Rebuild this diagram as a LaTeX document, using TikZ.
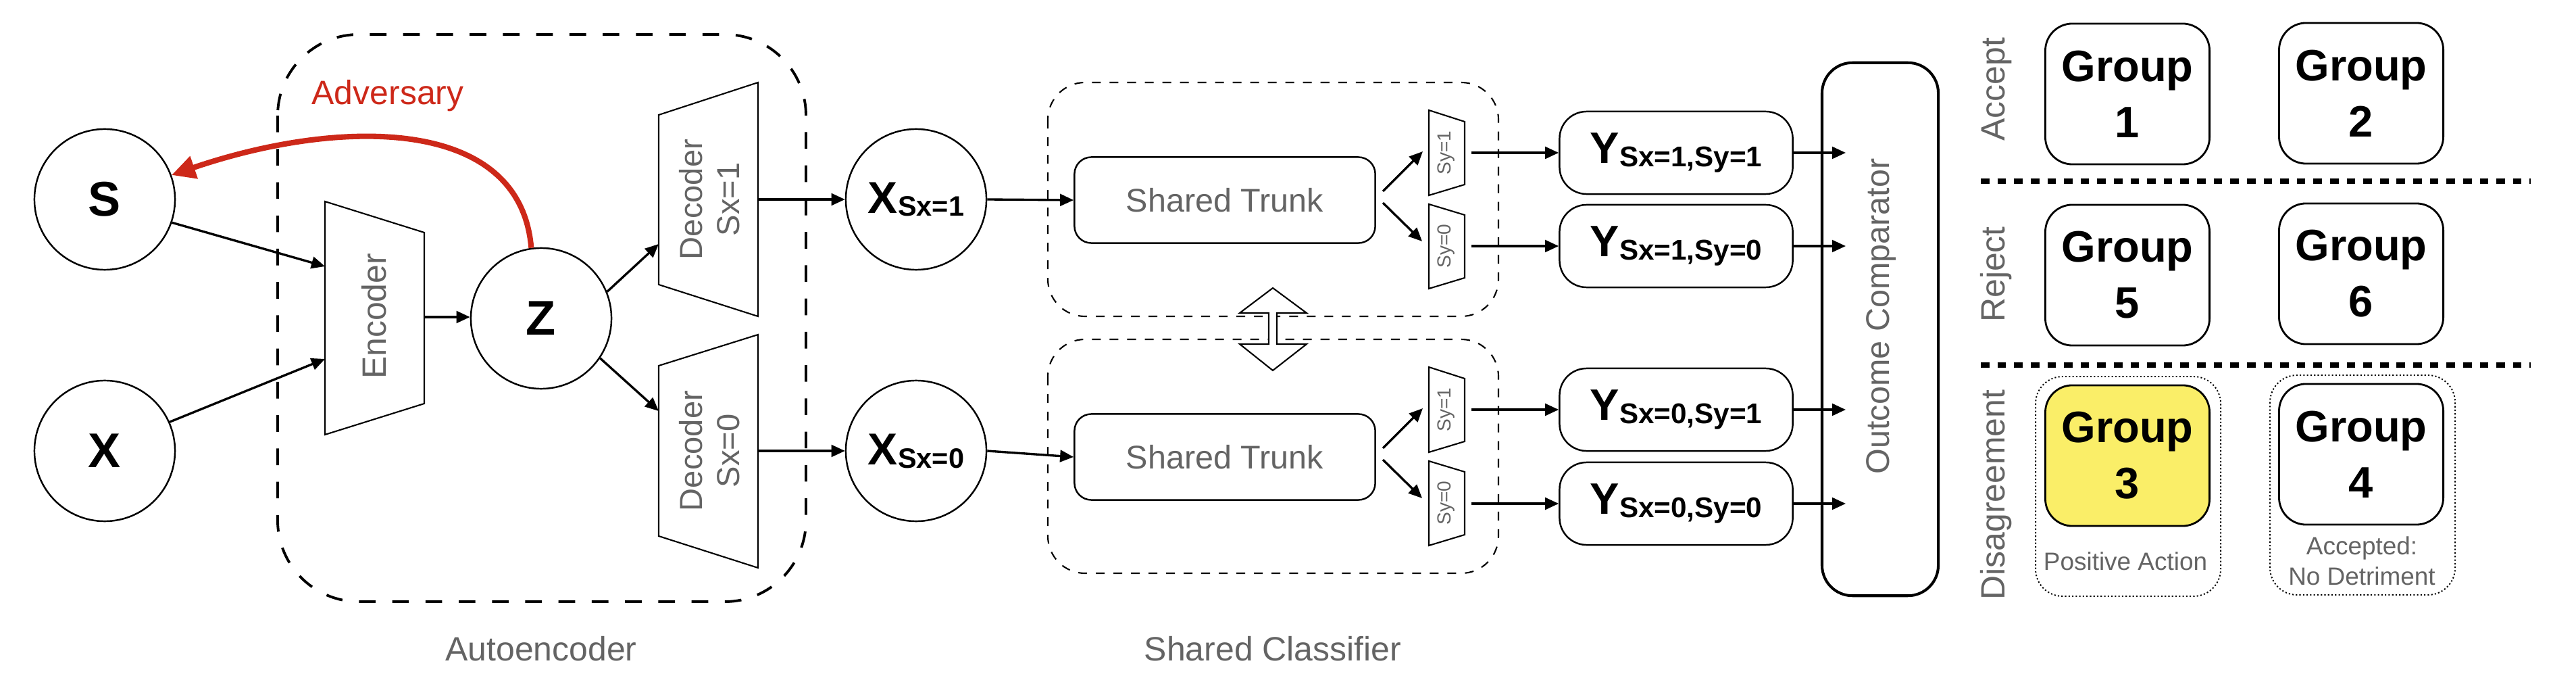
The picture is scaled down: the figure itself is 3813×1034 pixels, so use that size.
\documentclass[tikz,border=0pt]{standalone}
\usepackage{fontspec}
\setmainfont{Liberation Sans}
\usetikzlibrary{arrows.meta}
\definecolor{labelgray}{RGB}{100,100,100}
\definecolor{advred}{RGB}{205,40,25}
\definecolor{hiyellow}{RGB}{250,238,104}
\newcommand{\lowsub}[2]{\raisebox{-1.4pt}{\fontsize{#1}{#1}\selectfont #2}}

\begin{document}
\begin{tikzpicture}[x=0.01cm,y=-0.01cm,
  var/.style={draw,circle,line width=0.7pt,minimum size=2.08cm,inner sep=0pt,
    font=\fontsize{20.5}{24}\selectfont\bfseries},
  lbl/.style={text=labelgray,inner sep=0pt,font=\fontsize{14.2}{17}\selectfont},
  layer/.style={draw,line width=0.6pt},
  arr/.style={line width=0.95pt,-{Triangle[length=5.7pt,width=5pt]}},
  adv/.style={draw=advred,line width=2.3pt,-{Triangle[length=10pt,width=9.5pt]}},
  outbox/.style={draw,line width=0.7pt,rounded corners=0.4cm,inner sep=0pt,
    minimum width=3.45cm,minimum height=1.22cm,font=\fontsize{18.5}{22}\selectfont\bfseries},
  grp/.style={draw,line width=0.8pt,rounded corners=0.4cm,inner sep=0pt,align=center,
    minimum width=2.43cm,minimum height=2.08cm,font=\fontsize{18.5}{23.6}\selectfont\bfseries},
  sep/.style={line width=2pt,dash pattern=on 3.6pt off 3.4pt},
  note/.style={text=labelgray,inner sep=0pt,align=center,font=\fontsize{10.5}{12.8}\selectfont}]
\useasboundingbox (0,0) rectangle (3813,1034);

% autoencoder
\draw[line width=1.1pt,dash pattern=on 7pt off 7pt,rounded corners=1.2cm] (411,51) rectangle (1193,890);
\node[lbl] (aelbl) at (801,960) {Autoencoder};
\node[var] (S) at (155,295) {S};
\node[var] (X) at (155,667) {X};
\node[var] (Z) at (801,471) {Z};
\draw[layer] (481,298) -- (628,344) -- (628,597) -- (481,643) -- cycle;
\node[lbl,rotate=90] (enc) at (554,468) {Encoder};
\draw[layer] (975,170) -- (1122,122) -- (1122,468) -- (975,421) -- cycle;
\node[lbl,rotate=90,align=center,font=\fontsize{13.4}{15.6}\selectfont] (dec1) at (1050,295) {Decoder\\Sx=1};
\draw[layer] (975,541) -- (1122,495) -- (1122,840) -- (975,793) -- cycle;
\node[lbl,rotate=90,align=center,font=\fontsize{13.4}{15.6}\selectfont] (dec0) at (1050,667) {Decoder\\Sx=0};
\coordinate (encS) at (481,394);
\coordinate (encX) at (481,531);
\coordinate (encout) at (628,469);
\coordinate (dec1in) at (975,361);
\coordinate (dec0in) at (975,608);
\coordinate (dec1out) at (1122,295);
\coordinate (dec0out) at (1122,667);
\draw[arr] (S.-19) -- (encS);
\draw[arr] (X.24) -- (encX);
\draw[arr] (encout) -- (Z.west |- encout);
\draw[arr] (Z.22) -- (dec1in);
\draw[arr] (Z.-34) -- (dec0in);
\node[lbl,text=advred] (advlbl) at (574,142) {Adversary};
\draw[adv] (Z.98) .. controls (770,170) and (500,175) .. (S.20);

% shared classifier
\draw[line width=0.6pt,dash pattern=on 3.7pt off 3.7pt,rounded corners=0.55cm] (1551,122) rectangle (2218,468);
\draw[line width=0.6pt,dash pattern=on 3.7pt off 3.7pt,rounded corners=0.55cm] (1551,502) rectangle (2218,848);
\node[lbl] (clslbl) at (1884,960) {Shared Classifier};
\node[var,font=\fontsize{18.8}{22}\selectfont\bfseries] (X1) at (1356,295) {X\lowsub{11.8}{Sx=1}};
\node[var,font=\fontsize{18.8}{22}\selectfont\bfseries] (X0) at (1356,667) {X\lowsub{11.8}{Sx=0}};
\draw[arr] (dec1out) -- (X1.west);
\draw[arr] (dec0out) -- (X0.west);
\node[draw,line width=0.7pt,rounded corners=0.25cm,minimum width=4.45cm,minimum height=1.27cm,
  text=labelgray,font=\fontsize{13.8}{16}\selectfont] (trunk1) at (1813,296) {Shared Trunk};
\node[draw,line width=0.7pt,rounded corners=0.25cm,minimum width=4.45cm,minimum height=1.27cm,
  text=labelgray,font=\fontsize{13.8}{16}\selectfont] (trunk0) at (1813,676) {Shared Trunk};
\draw[arr] (X1.east) -- (trunk1.west);
\draw[arr] (X0.east) -- (trunk0.west);
\draw[layer] (2115,163) -- (2168,180) -- (2168,273) -- (2115,289) -- cycle;
\node[lbl,rotate=90,font=\fontsize{8}{9}\selectfont] (sy11) at (2141,226) {Sy=1};
\draw[layer] (2115,302) -- (2168,318) -- (2168,411) -- (2115,427) -- cycle;
\node[lbl,rotate=90,font=\fontsize{8}{9}\selectfont] (sy10) at (2141,364) {Sy=0};
\draw[layer] (2115,543) -- (2168,560) -- (2168,653) -- (2115,669) -- cycle;
\node[lbl,rotate=90,font=\fontsize{8}{9}\selectfont] (sy01) at (2141,606) {Sy=1};
\draw[layer] (2115,682) -- (2168,698) -- (2168,791) -- (2115,807) -- cycle;
\node[lbl,rotate=90,font=\fontsize{8}{9}\selectfont] (sy00) at (2141,744) {Sy=0};
\coordinate (t1a) at (2047,283);
\coordinate (t1b) at (2047,300);
\coordinate (t0a) at (2047,663);
\coordinate (t0b) at (2047,680);
\coordinate (sy11in) at (2106,224);
\coordinate (sy10in) at (2105,357);
\coordinate (sy01in) at (2106,604);
\coordinate (sy00in) at (2105,737);
\draw[arr] (t1a) -- (sy11in);
\draw[arr] (t1b) -- (sy10in);
\draw[arr] (t0a) -- (sy01in);
\draw[arr] (t0b) -- (sy00in);
\draw[line width=0.6pt,fill=white] (1884,426) -- (1934,463) -- (1890,463) -- (1890,509) -- (1934,509)
  -- (1884,548) -- (1835,509) -- (1878,509) -- (1878,463) -- (1835,463) -- cycle;

% outcomes
\node[outbox] (y11) at (2481,226) {Y\lowsub{12}{Sx=1,Sy=1}};
\node[outbox] (y10) at (2481,364) {Y\lowsub{12}{Sx=1,Sy=0}};
\node[outbox] (y01) at (2481,606) {Y\lowsub{12}{Sx=0,Sy=1}};
\node[outbox] (y00) at (2481,745) {Y\lowsub{12}{Sx=0,Sy=0}};
\coordinate (sy11out) at (2178,226);
\coordinate (sy10out) at (2178,364);
\coordinate (sy01out) at (2178,606);
\coordinate (sy00out) at (2178,745);
\draw[arr] (sy11out) -- (y11.west);
\draw[arr] (sy10out) -- (y10.west);
\draw[arr] (sy01out) -- (y01.west);
\draw[arr] (sy00out) -- (y00.west);
\node[draw,line width=1.15pt,rounded corners=0.45cm,minimum width=1.72cm,minimum height=7.88cm] (comp) at (2783,487) {};
\node[lbl,rotate=90,font=\fontsize{13.8}{16}\selectfont] (complbl) at (2785,468) {Outcome Comparator};
\coordinate (cin) at (2732,487);
\draw[arr] (y11.east) -- (y11.east -| cin);
\draw[arr] (y10.east) -- (y10.east -| cin);
\draw[arr] (y01.east) -- (y01.east -| cin);
\draw[arr] (y00.east) -- (y00.east -| cin);

% groups
\node[lbl,rotate=90] (acc) at (2955,132) {Accept};
\node[lbl,rotate=90] (rej) at (2955,406) {Reject};
\node[lbl,rotate=90] (dis) at (2955,732) {Disagreement};
\draw[sep] (2932,268) -- (3746,268);
\draw[sep] (2932,540) -- (3746,540);
\node[grp] (g1) at (3149,139) {Group\\1};
\node[grp] (g2) at (3495,138) {Group\\2};
\node[grp] (g5) at (3149,407) {Group\\5};
\node[grp] (g6) at (3495,405) {Group\\6};
\draw[line width=0.55pt,dash pattern=on 0.6pt off 0.9pt,rounded corners=0.4cm] (3013,557) rectangle (3287,882);
\draw[line width=0.55pt,dash pattern=on 0.6pt off 0.9pt,rounded corners=0.4cm] (3360,555) rectangle (3634,880);
\node[grp,fill=hiyellow] (g3) at (3149,674) {Group\\3};
\node[grp] (g4) at (3495,672) {Group\\4};
\node[note] (note3) at (3146,830) {Positive Action};
\node[note] (note4) at (3496,830) {Accepted:\\No Detriment};
\end{tikzpicture}
\end{document}
